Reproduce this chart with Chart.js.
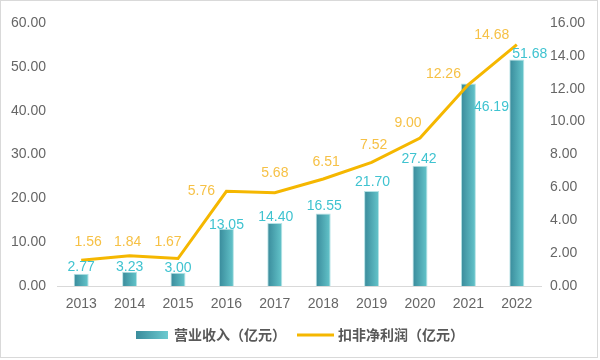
<!DOCTYPE html>
<html>
<head>
<meta charset="utf-8">
<script src="https://cdn.jsdelivr.net/npm/chart.js@4.4.0/dist/chart.umd.min.js"></script>
<style>
    html, body { margin: 0; padding: 0; background: #fff; }
</style>
</head>
<body>
<canvas id="grafico" width="600" height="360"></canvas>
<script>
// dados do gráfico
const anos = ['2013', '2014', '2015', '2016', '2017', '2018', '2019', '2020', '2021', '2022'];
const receita = [2.77, 3.23, 3.00, 13.05, 14.40, 16.55, 21.70, 27.42, 46.19, 51.68];
const lucro = [1.56, 1.84, 1.67, 5.76, 5.68, 6.51, 7.52, 9.00, 12.26, 14.68];
const nomes = ['营业收入（亿元）', '扣非净利润（亿元）'];

const fonte = '"Liberation Sans", Arial, "Noto Sans CJK SC", sans-serif';
const fonteLegenda = '"Noto Sans CJK SC", "Liberation Sans", sans-serif';

// deslocamento dos rótulos [dx, dy]
const ajusteBarra = [[0, -7], [0, -5], [0, -5], [0, -4], [1, -6], [1, -7], [1, -9], [-1, -7], [23, 24], [13, -5]];
const ajusteLinha = [[7, -18], [-2, -14], [-10, -16], [-25, 0], [0, -19], [3, -17], [2, -17], [-12, -15], [-25, -10], [-25, -10]];

function gradienteBarra(ctx, x) {
    const g = ctx.createLinearGradient(x - 7, 0, x + 7, 0);
    g.addColorStop(0, '#3a8c9c');
    g.addColorStop(1, '#63c4ca');
    return g;
}

const moldura = {
    id: 'moldura',
    beforeDraw: function (chart) {
        const ctx = chart.ctx;
        ctx.save();
        ctx.fillStyle = '#fff';
        ctx.fillRect(0, 0, chart.width, chart.height);
        ctx.strokeStyle = '#d9d9d9';
        ctx.lineWidth = 1;
        ctx.strokeRect(0.5, 0.5, 597, 357);
        ctx.restore();
    }
};

const rotulos = {
    id: 'rotulos',
    afterDatasetsDraw: function (chart) {
        const ctx = chart.ctx;
        ctx.save();
        ctx.font = '14px ' + fonte;
        ctx.textAlign = 'center';
        ctx.textBaseline = 'middle';

        ctx.fillStyle = '#3fc3d0';
        chart.getDatasetMeta(0).data.forEach(function (el, i) {
            const d = ajusteBarra[i];
            ctx.fillText(receita[i].toFixed(2), el.x + d[0], el.y + d[1]);
        });

        ctx.fillStyle = '#f6c146';
        chart.getDatasetMeta(1).data.forEach(function (el, i) {
            const d = ajusteLinha[i];
            ctx.fillText(lucro[i].toFixed(2), el.x + d[0], el.y + d[1]);
        });
        ctx.restore();
    }
};

// legenda desenhada à mão embaixo
const legenda = {
    id: 'legenda',
    afterDraw: function (chart) {
        const ctx = chart.ctx;
        ctx.save();
        ctx.font = 'bold 14px ' + fonteLegenda;
        ctx.textBaseline = 'middle';
        const w1 = ctx.measureText(nomes[0]).width;
        const w2 = ctx.measureText(nomes[1]).width;
        const total = 32 + 6 + w1 + 11 + 37 + 4 + w2;
        let x = Math.round(300 - total / 2);
        const y = 335;

        const g = ctx.createLinearGradient(x, 0, x + 32, 0);
        g.addColorStop(0, '#3a8c9c');
        g.addColorStop(1, '#6ccad0');
        ctx.fillStyle = g;
        ctx.fillRect(x, y - 4, 32, 8);
        x += 38;
        ctx.fillStyle = '#595959';
        ctx.fillText(nomes[0], x, y);
        x += w1 + 11;

        ctx.strokeStyle = '#f5b700';
        ctx.lineWidth = 3;
        ctx.beginPath();
        ctx.moveTo(x, y);
        ctx.lineTo(x + 37, y);
        ctx.stroke();
        x += 41;
        ctx.fillText(nomes[1], x, y);
        ctx.restore();
    }
};

const config = {
    data: {
        labels: anos,
        datasets: [{
            type: 'bar',
            label: nomes[0],
            data: receita,
            yAxisID: 'y',
            order: 2,
            backgroundColor: function (c) {
                const sx = c.chart.scales.x;
                const px = sx ? sx.getPixelForValue(c.dataIndex) : NaN;
                if (!isFinite(px)) return '#4fa9b4';
                return gradienteBarra(c.chart.ctx, px);
            },
            borderColor: '#b5e3e6',
            borderWidth: 1,
            barPercentage: 0.31,
            categoryPercentage: 1.0
        }, {
            type: 'line',
            label: nomes[1],
            data: lucro,
            yAxisID: 'y1',
            order: 1,
            borderColor: '#f5b700',
            borderWidth: 3,
            pointRadius: 0,
            tension: 0
        }]
    },
    options: {
        responsive: false,
        animation: false,
        layout: { padding: { top: 23, left: 0, right: 0, bottom: 0 } },
        plugins: {
            legend: { display: false },
            tooltip: { enabled: false }
        },
        scales: {
            x: {
                grid: { display: false, drawTicks: false },
                border: { display: true, color: '#d9d9d9', width: 1 },
                ticks: { color: '#666', font: { size: 14, family: fonte }, padding: 10, maxRotation: 0 },
                afterFit: function (s) { s.height = 74; }
            },
            y: {
                position: 'left',
                min: 0,
                max: 60,
                grid: { display: false, drawTicks: false },
                border: { display: false },
                ticks: {
                    stepSize: 10,
                    color: '#666',
                    font: { size: 14, family: fonte },
                    padding: 11,
                    callback: function (v) { return v.toFixed(2); }
                },
                afterFit: function (s) { s.width = 57; }
            },
            y1: {
                position: 'right',
                min: 0,
                max: 16,
                grid: { display: false, drawTicks: false },
                border: { display: false },
                ticks: {
                    stepSize: 2,
                    color: '#666',
                    font: { size: 14, family: fonte },
                    padding: 9,
                    callback: function (v) { return v.toFixed(2); }
                },
                afterFit: function (s) { s.width = 59; }
            }
        }
    },
    plugins: [moldura, rotulos, legenda]
};

new Chart(document.getElementById('grafico').getContext('2d'), config);
</script>
</body>
</html>
